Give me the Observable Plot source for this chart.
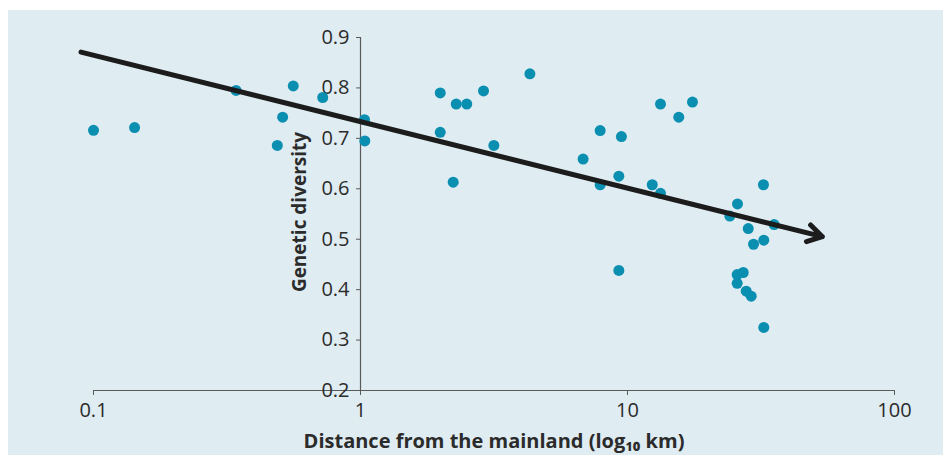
<!DOCTYPE html>
<html>
<head>
<meta charset="utf-8">
<script src="https://cdn.jsdelivr.net/npm/d3@7"></script>
<script src="https://cdn.jsdelivr.net/npm/@observablehq/plot@0.6"></script>
<style>
  html, body { margin: 0; padding: 0; background: #ffffff; }
  #panel { position: absolute; left: 8px; top: 10px; width: 935px; height: 445px; background: #dfecf2; }
  #panel svg { display: block; }
</style>
</head>
<body>
<div id="panel"></div>
<script>
// Distance from the mainland (km, log scale) and genetic diversity of each island population
const distance = [0.1, 0.1425, 0.342, 0.560, 0.511, 0.488, 0.722, 1.035, 1.038, 1.989,
  1.989, 2.283, 2.50, 2.889, 3.158, 2.224, 4.31, 6.82, 7.90, 7.90,
  9.49, 9.28, 9.28, 12.38, 13.29, 13.29, 15.56, 17.51, 24.16, 25.82,
  28.33, 29.65, 32.39, 32.3, 35.42, 27.13, 25.75, 25.75, 27.84, 29.06, 32.39];
const diversity = [0.716, 0.7215, 0.795, 0.804, 0.742, 0.686, 0.781, 0.737, 0.695, 0.790,
  0.712, 0.768, 0.768, 0.794, 0.686, 0.613, 0.828, 0.659, 0.7155, 0.608,
  0.7036, 0.625, 0.438, 0.608, 0.591, 0.768, 0.742, 0.772, 0.546, 0.570,
  0.521, 0.490, 0.498, 0.608, 0.529, 0.434, 0.430, 0.4125, 0.397, 0.387, 0.325];

// Trend arrow (start and end)
const trendX = [0.0898, 53.7];
const trendY = [0.871, 0.505];

const xTicks = [0.1, 1, 10, 100];
const xTickLabels = ["0.1", "1", "10", "100"];
const yTicks = [0.2, 0.3, 0.4, 0.5, 0.6, 0.7, 0.8, 0.9];
const xTitle = "Distance from the mainland (log\u2081\u2080 km)";
const yTitle = "Genetic diversity";

const points = distance.map((d, i) => ({distance: d, diversity: diversity[i]}));
const trend = [{x1: trendX[0], y1: trendY[0], x2: trendX[1], y2: trendY[1]}];

const W = 935, H = 445, mL = 85, mR = 49, mT = 27, mB = 65;
const axisDx = (W - mL - mR) / 3; // y axis drawn at x = 1

const axisColor = "#5a5a5a";
const textColor = "#2b2b2b";

const chart = Plot.plot({
  width: W,
  height: H,
  marginLeft: mL,
  marginRight: mR,
  marginTop: mT,
  marginBottom: mB,
  style: {background: "transparent", fontFamily: "'Open Sans', sans-serif", color: textColor},
  x: {type: "log", domain: [0.1, 100]},
  y: {domain: [0.2, 0.9]},
  marks: [
    // x axis line
    Plot.ruleY([0.2], {x1: 0.1, x2: 100, stroke: axisColor, strokeWidth: 1.2}),
    Plot.axisX({
      ticks: xTicks,
      tickFormat: (d, i) => xTickLabels[xTicks.indexOf(d)],
      tickSize: 5,
      tickPadding: 7,
      stroke: axisColor,
      fontSize: 20,
      fill: textColor,
      label: null
    }),
    // y axis line at x = 1
    Plot.ruleX([1], {y1: 0.2, y2: 0.9, stroke: axisColor, strokeWidth: 1.2}),
    Plot.axisY({
      anchor: "left",
      ticks: yTicks,
      tickFormat: d => d.toFixed(1),
      tickSize: 4,
      tickPadding: 7,
      dx: axisDx,
      stroke: axisColor,
      fontSize: 20,
      fill: textColor,
      label: null
    }),
    Plot.text([yTitle], {
      frameAnchor: "left",
      dx: axisDx - 61,
      dy: -2,
      rotate: -90,
      text: d => d,
      fontSize: 19,
      fontWeight: "bold",
      fill: textColor,
      lineAnchor: "middle",
      textAnchor: "middle"
    }),
    Plot.text([xTitle], {
      frameAnchor: "bottom",
      dy: 51,
      text: d => d,
      fontSize: 20,
      fontWeight: "bold",
      fill: textColor,
      lineAnchor: "middle",
      textAnchor: "middle"
    }),
    Plot.dot(points, {x: "distance", y: "diversity", r: 5.5, fill: "#0a8fb1", stroke: "none"}),
    Plot.arrow(trend, {x1: "x1", y1: "y1", x2: "x2", y2: "y2", stroke: "#1c1c1c", strokeWidth: 5, headLength: 5, headAngle: 62})
  ]
});

document.getElementById("panel").appendChild(chart);
</script>
</body>
</html>
